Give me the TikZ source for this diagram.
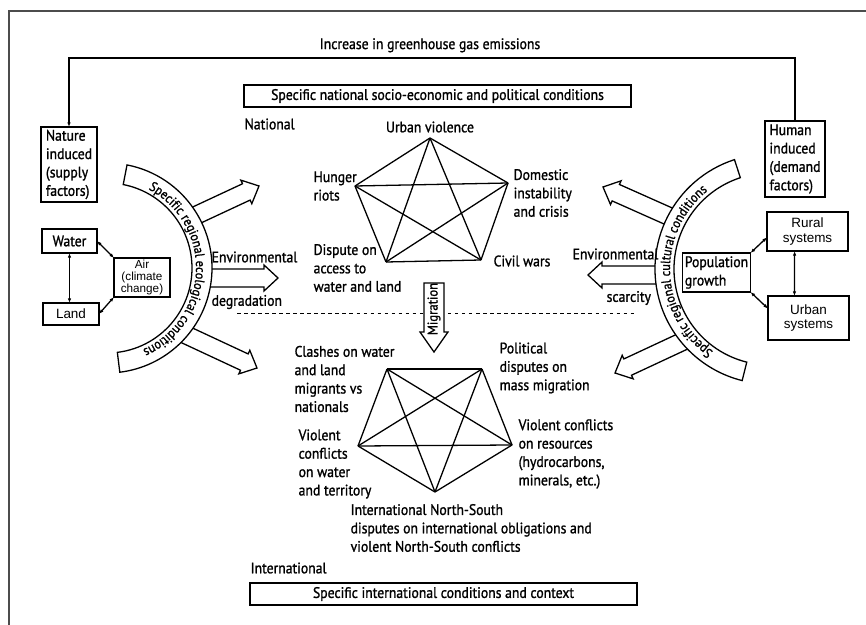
\documentclass[tikz,border=0pt]{standalone}
\usepackage{fontspec}
\setmainfont{PT Sans}[FakeStretch=0.9, FakeBold=1.2]
\newfontfamily\thinfont{Liberation Sans}
\usepackage{tikz}
\usetikzlibrary{positioning,arrows.meta,decorations.text}
\tikzset{
  box/.style = {rectangle, draw, inner sep=2pt, align=left, outer sep=0pt},
  sbox/.style = {rectangle, draw, inner sep=1pt, align=center, outer sep=0pt, font=\thinfont\fontsize{11.5}{12}\selectfont},
  lbl/.style = {inner sep=0pt, align=left, anchor=west},
  band/.style = {draw, fill=white},
  link/.style = {{Latex[length=4pt,width=3pt]}-{Latex[length=4pt,width=3pt]}}
}
% fat open arrow: tip x, tip y, angle, length
\newcommand{\fatarrow}[4]{%
  \draw[fill=white, shift={(#1,#2)}, rotate=#3]
    (-#4,9) -- (-14,9) -- (-14,13) -- (0,0) -- (-14,-13) -- (-14,-9) -- (-#4,-9);
}

\begin{document}
\begin{tikzpicture}[
    x=0.03cm, y=0.03cm, line width=1.1pt,
    every node/.style={font=\fontsize{13}{15.7}\selectfont},
    ]
\useasboundingbox (0,0) rectangle (866,-625);
\draw[black!70, line width=1.3pt] (880,-11) -- (9,-11) -- (9,-640);

% feedback loop
\node [box, minimum width=1.68cm, minimum height=2.25cm] (nature) at (69,-164.5) {Nature\\induced\\(supply\\factors)};
\node [box, minimum width=1.8cm, minimum height=2.28cm] (human) at (795,-159) {Human\\induced\\(demand\\factors)};
\coordinate (ghg) at (430,-58);
\node [above=1pt of ghg] (ghgtext) {Increase in greenhouse gas emissions};
\draw[-{Latex[length=4pt,width=3pt]}] (human.north) |- (ghg) -| (nature.north);

% context boxes
\node [box, align=center, minimum width=11.61cm, minimum height=0.66cm] (natbox) at (437.5,-96) {Specific national socio-economic and political conditions};
\node [box, align=center, minimum width=11.61cm, minimum height=0.66cm] (intbox) at (443.5,-594) {Specific international conditions and context};
\node [lbl] (national) at (244,-124) {National};
\node [lbl] (international) at (250,-568) {International};

% left side
\node [box, align=center, minimum width=1.65cm, minimum height=0.72cm] (water) at (69.5,-241) {Water};
\node [sbox, minimum width=1.68cm, minimum height=0.66cm] (land) at (71,-314) {Land};
\node [sbox, font=\thinfont\fontsize{10}{10}\selectfont, minimum width=1.68cm, minimum height=1.17cm] (air) at (142,-277.5) {Air\\(climate\\change)};
\draw[link] (water.south) -- (water.south |- land.north);
\draw[link] (water.east) -- (air.north west);
\draw[link] (land.east) -- (air.south west);

% right side
\node [box, minimum width=2.01cm, minimum height=1.17cm] (pop) at (716.5,-272.5) {Population\\growth};
\node [sbox, minimum width=2.43cm, minimum height=1.17cm] (rural) at (807.5,-231.5) {Rural\\systems};
\node [sbox, minimum width=2.43cm, minimum height=1.32cm] (urban) at (808.5,-318) {Urban\\systems};
\draw[link] (pop.north east) -- ([yshift=-5pt]rural.west);
\draw[link] (pop.south east) -- ([yshift=8pt]urban.west);
\draw[link] ([xshift=-11pt]rural.south) -- ([xshift=-12pt]urban.north);

% arrows out of the bands
\fatarrow{259}{-186}{25}{78}
\fatarrow{278}{-278}{0}{80}
\fatarrow{257}{-368}{-25}{85}
\fatarrow{603}{-187}{156}{80}
\fatarrow{588}{-275}{180}{80}
\fatarrow{615}{-373}{205}{85}

% bands
\coordinate (lc) at (107,-268);
\coordinate (rc) at (770,-269);
\draw[band] ([shift={(79:105)}]lc) arc[start angle=79, end angle=-83, radius=105]
  -- ([shift={(-83:85)}]lc) arc[start angle=-83, end angle=79, radius=85] -- cycle;
\path[decorate, decoration={text along path, text align=center,
  text={|\fontsize{11.5}{14}\selectfont|Specific regional ecological conditions}}]
  ([shift={(78:89)}]lc) arc[start angle=78, end angle=-82, radius=89];
\draw[band] ([shift={(108:115)}]rc) arc[start angle=108, end angle=256, radius=115]
  -- ([shift={(256:96)}]rc) arc[start angle=256, end angle=108, radius=96] -- cycle;
\path[decorate, decoration={text along path, text align=center,
  text={|\fontsize{11.5}{14}\selectfont|Specific regional cultural conditions}}]
  ([shift={(254:100)}]rc) arc[start angle=254, end angle=110, radius=100];

\node [lbl] (envl) at (211,-257) {Environmental};
\node [lbl] (degr) at (211,-302) {degradation};
\node [lbl] (envr) at (572,-254) {Environmental};
\node [lbl] (scar) at (606,-298) {scarcity};

% national level
\coordinate (uv) at (430,-138);
\coordinate (dc) at (508,-183);
\coordinate (cw) at (481,-260);
\coordinate (da) at (386,-262);
\coordinate (hr) at (355,-186);
\foreach \a/\b in {uv/dc,uv/cw,uv/da,uv/hr,dc/cw,dc/da,dc/hr,cw/da,cw/hr,da/hr}
  \draw (\a) -- (\b);
\node (uvl) at (430,-127) {Urban violence};
\node [lbl] (hrl) at (313,-186) {Hunger\\riots};
\node [lbl] (dcl) at (513,-193) {Domestic\\instability\\and crisis};
\node [lbl] (dal) at (313,-268) {Dispute on\\access to\\water and land};
\node [lbl] (cwl) at (493,-261) {Civil wars};

\draw[dashed, line width=0.8pt] (237,-313) -- (637,-313);

% migration
\draw[fill=white] (424,-283) -- (444,-283) -- (444,-332) -- (448,-332) -- (434,-352)
  -- (420,-332) -- (424,-332) -- cycle;
\node [rotate=90, inner sep=0pt, font=\fontsize{12}{14}\selectfont] (migr) at (434,-309) {Migration};

% international level
\coordinate (cl) at (387,-369);
\coordinate (po) at (482,-369);
\coordinate (vr) at (512,-445);
\coordinate (ns) at (435,-492);
\coordinate (vw) at (358,-446);
\foreach \a/\b in {cl/po,cl/vr,cl/ns,cl/vw,po/vr,po/ns,po/vw,vr/ns,vr/vw,ns/vw}
  \draw (\a) -- (\b);
\node [lbl] (cll) at (294,-379) {Clashes on water\\and land\\migrants vs\\nationals};
\node [lbl] (pol) at (499,-368) {Political\\disputes on\\mass migration};
\node [lbl] (vwl) at (298,-464) {Violent\\conflicts\\on water\\and territory};
\node [lbl] (vrl) at (518,-454) {Violent conflicts\\on resources\\(hydrocarbons,\\minerals, etc.)};
\node [lbl] (nsl) at (350,-528) {International North-South\\disputes on international obligations and\\violent North-South conflicts};

\end{tikzpicture}
\end{document}
